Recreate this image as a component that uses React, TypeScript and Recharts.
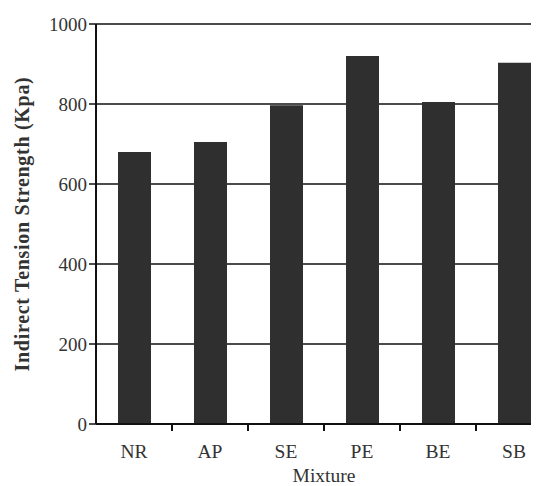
import { BarChart, Bar, XAxis, YAxis, CartesianGrid } from "recharts";

const mixtures = ["NR", "AP", "SE", "PE", "BE", "SB"];
const strength = [680, 705, 797, 920, 805, 903];
const yTicks = [0, 200, 400, 600, 800, 1000];

const data = mixtures.map((m, i) => ({ mixture: m, value: strength[i] }));

const INK = "#111";
const TEXT = "#333";

// label at the band centre, small tick mark on the boundary between bands
function MixtureTick(props: any) {
  const { x, y, payload, index, visibleTicksCount, width } = props;
  const half = width / visibleTicksCount / 2;
  const axisY = y - 8;
  return (
    <g>
      <text
        x={x}
        y={y + 26}
        textAnchor="middle"
        fontSize={19.5}
        fill={TEXT}
      >
        {payload.value}
      </text>
      {index < visibleTicksCount - 1 && (
        <line
          x1={x + half}
          x2={x + half}
          y1={axisY}
          y2={axisY + 7}
          stroke={INK}
          strokeWidth={2}
        />
      )}
    </g>
  );
}

export default function App() {
  return (
    <div
      style={{
        width: 531,
        height: 478,
        overflow: "hidden",
        fontFamily: '"Liberation Serif", "Times New Roman", serif',
      }}
    >
      <BarChart
        width={560}
        height={478}
        data={data}
        margin={{ top: 16, right: 16, bottom: 0, left: 0 }}
      >
        <CartesianGrid
          vertical={false}
          stroke={INK}
          strokeWidth={1.5}
        />
        <XAxis
          dataKey="mixture"
          height={62}
          axisLine={{ stroke: INK, strokeWidth: 2 }}
          tickLine={{ stroke: "none" }}
          tickSize={6}
          tickMargin={2}
          tick={<MixtureTick />}
          interval={0}
          label={{
            value: "Mixture",
            position: "insideBottom",
            offset: 4,
            fontSize: 19.5,
            fill: TEXT,
          }}
        />
        <YAxis
          domain={[0, 1000]}
          ticks={yTicks}
          width={88}
          axisLine={{ stroke: INK, strokeWidth: 2 }}
          tickLine={{ stroke: INK, strokeWidth: 1.5 }}
          tickSize={7}
          tickMargin={2}
          tick={{ fontSize: 19, fill: TEXT }}
          label={{
            value: "Indirect Tension Strength (Kpa)",
            angle: -90,
            position: "center",
            dx: -30,
            fontSize: 20,
            fontWeight: "bold",
            letterSpacing: 0.7,
            fill: TEXT,
          }}
        />
        <Bar
          dataKey="value"
          fill="#2f2f2f"
          barSize={33}
          isAnimationActive={false}
        />
      </BarChart>
    </div>
  );
}
